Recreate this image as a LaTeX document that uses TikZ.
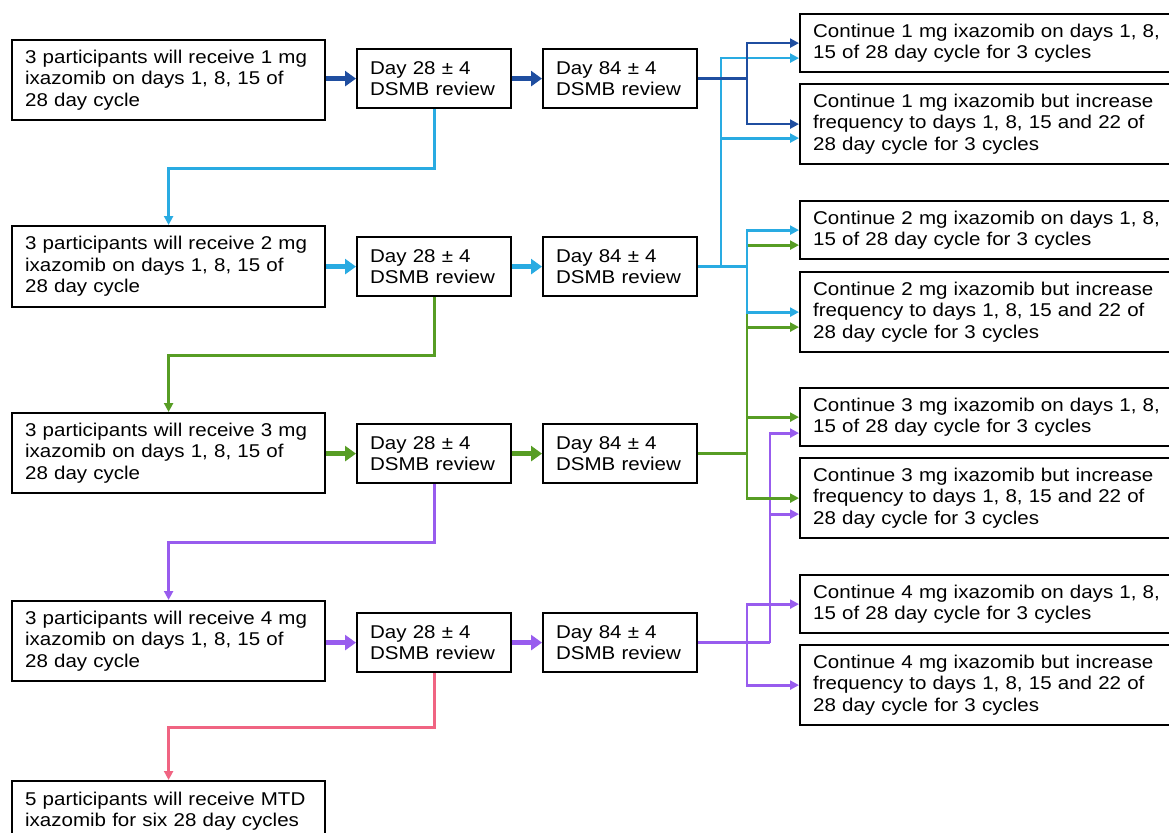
\documentclass[tikz,border=0pt]{standalone}
\usepackage{fontspec}
\setmainfont{Liberation Sans}[FakeStretch=1.11]
\usetikzlibrary{arrows.meta,calc}
\definecolor{cdb}{RGB}{31,78,160}
\definecolor{clb}{RGB}{41,171,226}
\definecolor{cgr}{RGB}{87,157,36}
\definecolor{cpu}{RGB}{152,92,238}
\definecolor{crd}{RGB}{240,100,130}
\tikzset{
  box/.style={draw=black, line width=2.2pt, anchor=north west, align=left,
    inner xsep=13pt, inner ysep=0pt, font=\fontsize{18.5}{21.5}\selectfont},
  lbox/.style={box, text width=287pt, minimum height=80pt},
  dbox/.style={box, text width=128pt, minimum height=59pt},
  rboxa/.style={box, text width=380pt, minimum height=58pt},
  rboxb/.style={box, text width=380pt, minimum height=80pt},
  conn/.style={line width=2.8pt},
  thickarr/.style={line width=5pt, -{Triangle[length=11pt,width=15pt]}},
  arrowline/.style={conn, -{Triangle[length=9pt,width=9pt]}},
}
\begin{document}
\begin{tikzpicture}[x=1pt,y=-1pt]
\useasboundingbox (0,0) rectangle (1169,832);
\clip (0,0) rectangle (1169,832);
% left boxes
\node[lbox] (L1) at (11,39) {3 participants will receive 1 mg\\ixazomib on days 1, 8, 15 of\\28 day cycle};
\node[lbox, minimum height=81pt] (L2) at (11,225) {3 participants will receive 2 mg\\ixazomib on days 1, 8, 15 of\\28 day cycle};
\node[lbox] (L3) at (11,412) {3 participants will receive 3 mg\\ixazomib on days 1, 8, 15 of\\28 day cycle};
\node[lbox] (L4) at (11,600) {3 participants will receive 4 mg\\ixazomib on days 1, 8, 15 of\\28 day cycle};
\node[lbox, minimum height=60pt] (M) at (11,780) {5 participants will receive MTD\\ixazomib for six 28 day cycles};
% review boxes
\node[dbox] (A1) at (356,48) {Day 28 ± 4\\DSMB review};
\node[dbox] (A2) at (356,236) {Day 28 ± 4\\DSMB review};
\node[dbox] (A3) at (356,423) {Day 28 ± 4\\DSMB review};
\node[dbox] (A4) at (356,612) {Day 28 ± 4\\DSMB review};
\node[dbox] (B1) at (542,48) {Day 84 ± 4\\DSMB review};
\node[dbox] (B2) at (542,236) {Day 84 ± 4\\DSMB review};
\node[dbox] (B3) at (542,423) {Day 84 ± 4\\DSMB review};
\node[dbox] (B4) at (542,612) {Day 84 ± 4\\DSMB review};
% outcome boxes
\node[rboxa] (C1) at (799,13) {Continue 1 mg ixazomib on days 1, 8,\\15 of 28 day cycle for 3 cycles};
\node[rboxb] (C2) at (799,83) {Continue 1 mg ixazomib but increase\\frequency to days 1, 8, 15 and 22 of\\28 day cycle for 3 cycles};
\node[rboxa] (C3) at (799,200) {Continue 2 mg ixazomib on days 1, 8,\\15 of 28 day cycle for 3 cycles};
\node[rboxb] (C4) at (799,271) {Continue 2 mg ixazomib but increase\\frequency to days 1, 8, 15 and 22 of\\28 day cycle for 3 cycles};
\node[rboxa] (C5) at (799,387) {Continue 3 mg ixazomib on days 1, 8,\\15 of 28 day cycle for 3 cycles};
\node[rboxb] (C6) at (799,457) {Continue 3 mg ixazomib but increase\\frequency to days 1, 8, 15 and 22 of\\28 day cycle for 3 cycles};
\node[rboxa] (C7) at (799,574) {Continue 4 mg ixazomib on days 1, 8,\\15 of 28 day cycle for 3 cycles};
\node[rboxb] (C8) at (799,644) {Continue 4 mg ixazomib but increase\\frequency to days 1, 8, 15 and 22 of\\28 day cycle for 3 cycles};
% bus x positions and secondary arrow targets
\coordinate (xa) at (747,0);
\coordinate (xb) at (721,0);
\coordinate (xc) at (770,0);
\coordinate (C1b) at ($(C1.west)+(0,15)$);
\coordinate (C2b) at ($(C2.west)+(0,14)$);
\coordinate (C3b) at ($(C3.west)+(0,15)$);
\coordinate (C4b) at ($(C4.west)+(0,15)$);
\coordinate (C5b) at ($(C5.west)+(0,16)$);
\coordinate (C6b) at ($(C6.west)+(0,16)$);
% thick horizontal arrows
\draw[thickarr, cdb] (L1.east |- A1.west) -- (A1.west);
\draw[thickarr, cdb] (A1.east) -- (B1.west);
\draw[thickarr, clb] (L2.east |- A2.west) -- (A2.west);
\draw[thickarr, clb] (A2.east) -- (B2.west);
\draw[thickarr, cgr] (L3.east |- A3.west) -- (A3.west);
\draw[thickarr, cgr] (A3.east) -- (B3.west);
\draw[thickarr, cpu] (L4.east |- A4.west) -- (A4.west);
\draw[thickarr, cpu] (A4.east) -- (B4.west);
% downward connectors
\draw[arrowline, clb] (A1.south) -- ++(0,59) -| (L2.north);
\draw[arrowline, cgr] (A2.south) -- ++(0,58) -| (L3.north);
\draw[arrowline, cpu] (A3.south) -- ++(0,58) -| (L4.north);
\draw[arrowline, crd] (A4.south) -- ++(0,54) -| (M.north);
% row 4 (purple)
\draw[conn, cpu] (B4.east) -- (B4.east -| xc);
\draw[arrowline, cpu] (B4.east -| xc) |- (C5b);
\draw[arrowline, cpu] (B4.east -| xc) |- (C6b);
\draw[arrowline, cpu] (B4.east -| xa) |- (C7.west);
\draw[arrowline, cpu] (B4.east -| xa) |- (C8.west);
% row 3 (green)
\draw[conn, cgr] (B3.east) -- (B3.east -| xa);
\draw[arrowline, cgr] (B3.east -| xa) |- (C3b);
\draw[arrowline, cgr] (B3.east -| xa) |- (C4b);
\draw[arrowline, cgr] (B3.east -| xa) |- (C5.west);
\draw[arrowline, cgr] (B3.east -| xa) |- (C6.west);
% row 2 (light blue)
\draw[conn, clb] (B2.east) -- (B2.east -| xa);
\draw[arrowline, clb] (B2.east -| xa) |- (C3.west);
\draw[arrowline, clb] (B2.east -| xa) |- (C4.west);
\draw[arrowline, clb] (B2.east -| xb) |- (C1b);
\draw[arrowline, clb] (B2.east -| xb) |- (C2b);
% row 1 (dark blue)
\draw[conn, cdb] (B1.east) -- (B1.east -| xa);
\draw[arrowline, cdb] (B1.east -| xa) |- (C1.west);
\draw[arrowline, cdb] (B1.east -| xa) |- (C2.west);
\end{tikzpicture}
\end{document}
